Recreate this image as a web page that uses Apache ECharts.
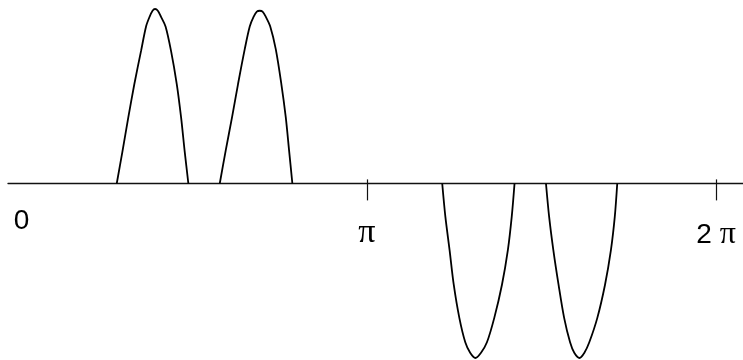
<!DOCTYPE html>
<html>
<head>
<meta charset="utf-8">
<script src="https://cdn.jsdelivr.net/npm/echarts@6/dist/echarts.min.js"></script>
<style>
  html, body { margin: 0; padding: 0; background: #fff; }
  #main { width: 743px; height: 360px; }
</style>
</head>
<body>
<div id="main"></div>
<script>
// x in multiples of pi, y in units of the pulse height
const lobe1X = [0.2843, 0.3003, 0.3175, 0.3347, 0.3539, 0.3682, 0.3782, 0.3868, 0.3939, 0.4019, 0.4111, 0.4240, 0.4397, 0.4561, 0.4684, 0.4790, 0.4893];
const lobe1Y = [0, 0.18, 0.38, 0.57, 0.76, 0.90, 0.955, 0.99, 1.00, 0.99, 0.955, 0.90, 0.76, 0.57, 0.38, 0.18, 0];
const lobe2X = [0.5792, 0.5963, 0.6144, 0.6315, 0.6507, 0.6650, 0.6759, 0.6853, 0.6937, 0.7017, 0.7111, 0.7237, 0.7395, 0.7555, 0.7681, 0.7776, 0.7870];
const lobe2Y = [0, 0.19, 0.38, 0.57, 0.77, 0.90, 0.955, 0.985, 0.99, 0.985, 0.955, 0.90, 0.77, 0.57, 0.38, 0.19, 0];
const lobe3X = [1.216, 1.225, 1.237, 1.249, 1.265, 1.282, 1.296, 1.311, 1.327, 1.344, 1.365, 1.387, 1.404, 1.415, 1.423];
const lobe3Y = [0, -0.19, -0.38, -0.58, -0.77, -0.91, -0.97, -1.00, -0.97, -0.91, -0.77, -0.58, -0.38, -0.19, 0];
const lobe4X = [1.513, 1.522, 1.534, 1.549, 1.565, 1.582, 1.594, 1.609, 1.623, 1.637, 1.660, 1.682, 1.699, 1.710, 1.717];
const lobe4Y = [0, -0.19, -0.38, -0.58, -0.77, -0.91, -0.97, -1.00, -0.97, -0.91, -0.77, -0.58, -0.38, -0.19, 0];

const labelValues = [0, 1, 2];
const labelTexts = ['0', 'π', '2 π'];
const tickValues = [1, 2];

const xMin = -0.027;
const xMax = 2.077;

const myChart = echarts.init(document.getElementById('main'));

function pairs(xs, ys) {
  return xs.map((x, i) => [x, ys[i]]);
}

function lobe(xs, ys) {
  return {
    type: 'line',
    data: pairs(xs, ys),
    smooth: 0.3,
    showSymbol: false,
    lineStyle: { color: '#000', width: 1.8 },
    xAxisIndex: 2,
    yAxisIndex: 1
  };
}

const option = {
  animation: false,
  // grid 0 holds the visible axis (its bottom edge is the zero line), grid 1 the curves
  grid: [
    { left: 8, right: 0, top: 9, bottom: 176.6, containLabel: false, outerBoundsMode: 'none' },
    { left: 8, right: 0, top: 9, bottom: 2, containLabel: false, outerBoundsMode: 'none' }
  ],
  xAxis: [
    {
      type: 'value',
      gridIndex: 0,
      position: 'bottom',
      min: xMin,
      max: xMax,
      axisLine: { onZero: false, lineStyle: { color: '#111', width: 1.3 } },
      axisTick: { show: true, customValues: tickValues, length: 17, lineStyle: { color: '#111', width: 1.2 } },
      axisLabel: {
        customValues: labelValues,
        margin: 24,
        formatter: function (v) {
          const i = labelValues.indexOf(Math.round(v));
          const t = labelTexts[i];
          if (i === 0) return '{z|' + t + '}';
          if (i === 1) return '{p|' + t + '}';
          const parts = t.split(' ');
          return '{d|' + parts[0] + ' }{q|' + parts[1] + '}';
        },
        rich: {
          z: { fontFamily: 'Liberation Sans', fontSize: 28, color: '#000', lineHeight: 28, padding: [0, 0, 0, 8] },
          p: { fontFamily: 'Liberation Serif', fontSize: 34, color: '#000', lineHeight: 51 },
          d: { fontFamily: 'Liberation Sans', fontSize: 28, color: '#000', lineHeight: 55 },
          q: { fontFamily: 'Liberation Serif', fontSize: 32, color: '#000', lineHeight: 55 }
        }
      },
      splitLine: { show: false }
    },
    {
      type: 'value',
      gridIndex: 0,
      position: 'bottom',
      min: xMin,
      max: xMax,
      axisLine: { show: false, onZero: false },
      axisTick: { show: true, inside: true, customValues: tickValues, length: 4, lineStyle: { color: '#111', width: 1.2 } },
      axisLabel: { show: false },
      splitLine: { show: false }
    },
    {
      type: 'value',
      gridIndex: 1,
      min: xMin,
      max: xMax,
      show: false,
      splitLine: { show: false }
    }
  ],
  yAxis: [
    { type: 'value', gridIndex: 0, min: 0, max: 1, show: false, splitLine: { show: false } },
    { type: 'value', gridIndex: 1, min: -1, max: 1, show: false, splitLine: { show: false } }
  ],
  series: [
    lobe(lobe1X, lobe1Y),
    lobe(lobe2X, lobe2Y),
    lobe(lobe3X, lobe3Y),
    lobe(lobe4X, lobe4Y)
  ]
};

myChart.setOption(option);
</script>
</body>
</html>
